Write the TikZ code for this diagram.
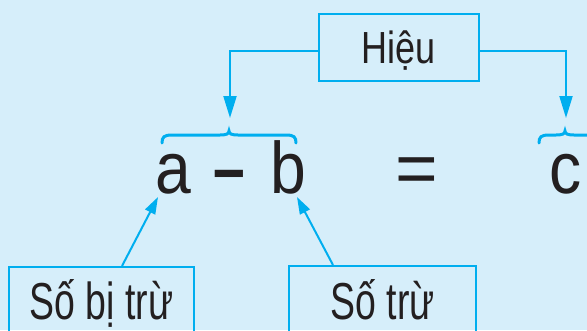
\documentclass[tikz,border=0pt]{standalone}
\usepackage{fontspec}
\setmainfont{Liberation Sans}
\usetikzlibrary{arrows.meta}
\definecolor{bg}{HTML}{D6EEFA}
\definecolor{ln}{HTML}{00AEEF}
\definecolor{ink}{HTML}{231F20}
\begin{document}
\begin{tikzpicture}[x=1pt,y=-1pt,
  box/.style={draw=ln, line width=2pt, inner sep=0pt, anchor=north west, text=ink, align=center},
  arrbig/.style={draw=ln, line width=2pt, -{Triangle[length=22pt,width=13pt]}},
  arrsmall/.style={draw=ln, line width=2pt, -{Triangle[length=17pt,width=11pt]}},
  brc/.style={draw=ln, line width=3pt, line cap=round},
  sym/.style={text=ink, anchor=base, inner sep=0pt, font=\fontsize{73}{73}\selectfont}]
\useasboundingbox (0,0) rectangle (587,330);
\fill[bg] (0,0) rectangle (587,330);
\clip (0,0) rectangle (587,330);
% boxes
\node[box, minimum width=160pt, text height=49pt, text depth=18pt,
      font=\fontsize{45}{50}\selectfont] (hieu) at (318,13) {\scalebox{0.8}[1]{Hiệu}};
\node[box, minimum width=185pt, text height=52pt, text depth=30pt,
      font=\fontsize{52}{56}\selectfont] (sbt) at (8,266) {\scalebox{0.72}[1]{Số bị trừ}};
\node[box, minimum width=187pt, text height=53pt, text depth=30pt,
      font=\fontsize{52}{56}\selectfont] (st) at (288,265) {\scalebox{0.72}[1]{Số trừ}};
% symbols
\node[sym] (a) at (173,193) {\scalebox{0.88}[1]{a}};
\node[sym] (minus) at (229,193) {\scalebox{0.78}[1]{\bfseries –}};
\node[sym] (b) at (288,193) {\scalebox{0.88}[1]{b}};
\node[sym] (eq) at (417,193) {=};
\node[sym] (c) at (566,193) {\scalebox{0.88}[1]{c}};
% braces
\draw[brc] (162,143) .. controls (162,137) and (164,135) .. (172,135) -- (220,135)
  .. controls (226,135) and (229,134) .. (229,131)
  .. controls (229,134) and (232,135) .. (238,135) -- (286,135)
  .. controls (294,135) and (296,137) .. (296,143);
\draw[brc] (539,143) .. controls (539,137) and (541,135) .. (549,135) -- (556,135)
  .. controls (562,135) and (565,134) .. (565,131)
  .. controls (565,134) and (568,135) .. (574,135) -- (600,135);
% arrow targets
\coordinate (tipL) at (230,118);
\coordinate (tipR) at (566,118);
\coordinate (tipA) at (158,197);
\coordinate (tipB) at (297,197);
\coordinate (startA) at (122,266);
\coordinate (startB) at (333,265);
% connectors
\draw[arrbig] ([yshift=-3.5pt]hieu.west) -| (tipL);
\draw[arrbig] ([yshift=-3.5pt]hieu.east) -| (tipR);
\draw[arrsmall] (startA) -- (tipA);
\draw[arrsmall] (startB) -- (tipB);
\end{tikzpicture}
\end{document}
